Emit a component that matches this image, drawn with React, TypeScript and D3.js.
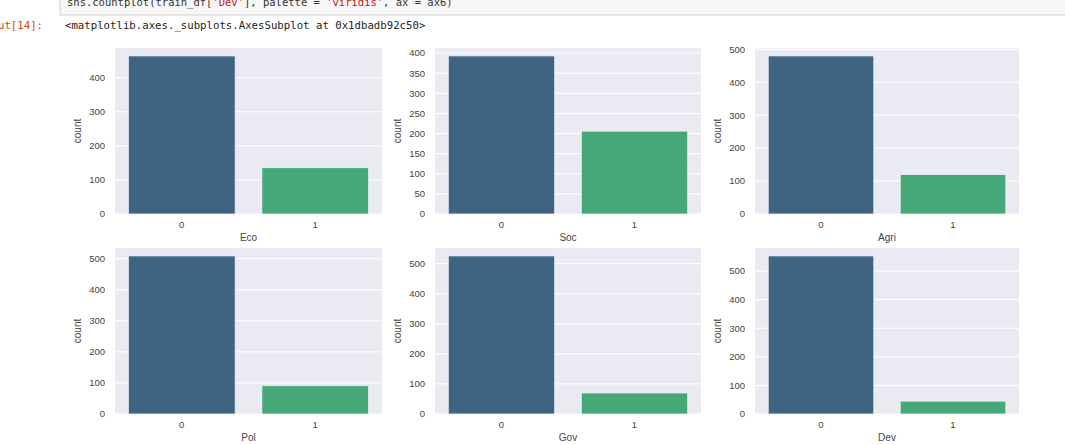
import React from "react";
import * as d3 from "d3";

// value counts per column (class 0, class 1)
const columns = ["Eco", "Soc", "Agri", "Pol", "Gov", "Dev"];
const classes = ["0", "1"];
const count0 = [464, 393, 480, 509, 526, 553];
const count1 = [136, 206, 120, 91, 70, 45];
const yTicks = [
  [0, 100, 200, 300, 400],
  [0, 50, 100, 150, 200, 250, 300, 350, 400],
  [0, 100, 200, 300, 400, 500],
  [0, 100, 200, 300, 400, 500],
  [0, 100, 200, 300, 400, 500],
  [0, 100, 200, 300, 400, 500],
];
const palette = ["#3e6481", "#46a878"];

const codeLine = "sns.countplot(train_df['Dev'], palette = 'viridis', ax = ax6)";
const outLine = "<matplotlib.axes._subplots.AxesSubplot at 0x1dbadb92c50>";

const W = 1065;
const H = 445;
const colX = [
  [115, 382],
  [435, 701],
  [755, 1019],
];
const rowY = [
  [48, 214],
  [248, 414],
];
const font = "'Liberation Sans', Arial, sans-serif";
const mono = "'DejaVu Sans Mono', monospace";

function Panel({ i }: { i: number }) {
  const [x0, x1] = colX[i % 3];
  const [y0, y1] = rowY[Math.floor(i / 3)];
  const vals = [count0[i], count1[i]];
  const ymax = d3.max(vals)! * 1.05;
  const y = d3.scaleLinear().domain([0, ymax]).range([y1, y0]);
  const x = d3.scaleBand().domain(classes).range([x0, x1]).paddingInner(0.2).paddingOuter(0.1);
  return (
    <g>
      <rect x={x0} y={y0} width={x1 - x0} height={y1 - y0} fill="#eaeaf2" />
      {yTicks[i].map((t) => (
        <g key={t}>
          <line x1={x0} x2={x1} y1={y(t)} y2={y(t)} stroke="#fff" strokeWidth={1} />
          <text x={x0 - 10} y={y(t)} dy="0.35em" textAnchor="end" fontSize={9.5} fill="#444" fontFamily={font}>
            {t}
          </text>
        </g>
      ))}
      {classes.map((c, k) => (
        <g key={c}>
          <rect
            x={x(c)!}
            y={y(vals[k])}
            width={x.bandwidth()}
            height={y(0) - y(vals[k])}
            fill={palette[k]}
            stroke="#f0f0f5"
            strokeWidth={0.8}
          />
          <text x={x(c)! + x.bandwidth() / 2} y={y1 + 11} dy="0.35em" textAnchor="middle" fontSize={9.5} fill="#444" fontFamily={font}>
            {c}
          </text>
        </g>
      ))}
      <text x={(x0 + x1) / 2} y={y1 + 23} dy="0.35em" textAnchor="middle" fontSize={10} fill="#444" fontFamily={font}>
        {columns[i]}
      </text>
      <text
        transform={`translate(${x0 - 38},${(y0 + y1) / 2}) rotate(-90)`}
        dy="0.35em"
        textAnchor="middle"
        fontSize={10}
        fill="#444"
        fontFamily={font}
      >
        count
      </text>
    </g>
  );
}

function renderCode() {
  // colour the quoted strings red like the notebook highlighter
  const parts = codeLine.split(/('[^']*')/);
  return parts.map((p, k) => (
    <tspan key={k} fill={p.startsWith("'") ? "#ba2121" : "#333"}>
      {p}
    </tspan>
  ));
}

export default function App() {
  return (
    <div style={{ position: "absolute", left: 0, top: 0, background: "#fff" }}>
      <svg width={W} height={H} style={{ display: "block" }}>
        <rect width={W} height={H} fill="#fff" />
        <rect x={60} y={-10} width={1010} height={25} fill="#f7f7f7" stroke="#cfcfcf" />
        <text x={67} y={6} fontSize={10.5} fontFamily={mono}>
          {renderCode()}
        </text>
        <text x={-2} y={29} fontSize={10.7} fontFamily={mono} fill="#d84315">
          ut[14]:
        </text>
        <text x={65} y={29} fontSize={10.7} fontFamily={mono} fill="#222">
          {outLine}
        </text>
        {columns.map((_, i) => (
          <Panel key={i} i={i} />
        ))}
      </svg>
    </div>
  );
}
